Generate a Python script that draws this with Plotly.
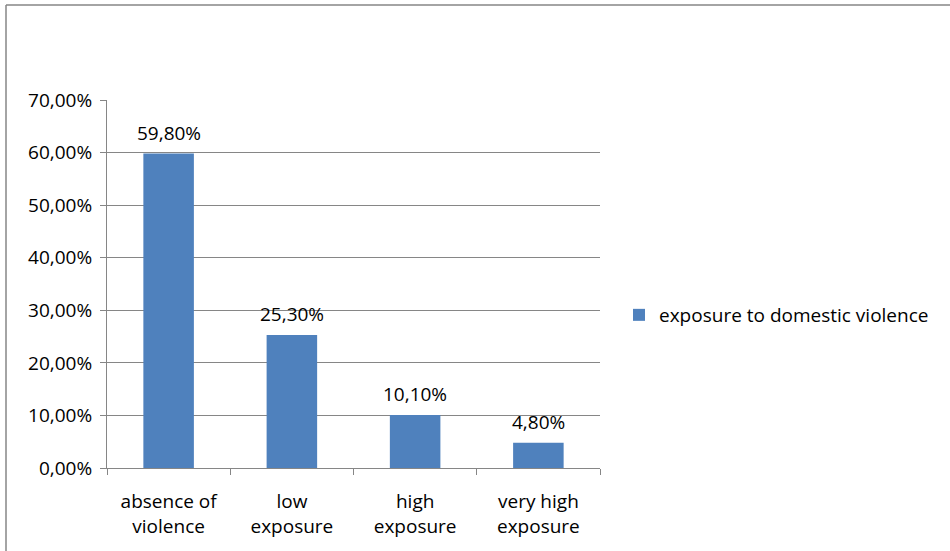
import plotly.graph_objects as go

categories = ["absence of<br>violence", "low<br>exposure", "high<br>exposure", "very high<br>exposure"]
values = [59.80, 25.30, 10.10, 4.80]
series_name = "exposure to domestic violence"
tick_values = [0, 10, 20, 30, 40, 50, 60, 70]
tick_labels = [f"{v:.2f}%".replace(".", ",") for v in tick_values]
value_labels = [f"{v:.2f}%".replace(".", ",") for v in values]

W, H = 950, 551
L, R, T, B = 107, 600, 100, 468
pw, ph = R - L, B - T

def px(x):
    return (x - L) / pw

def py(y):
    return (B - y) / ph

font = "'Open Sans', sans-serif"
fs = 19

fig = go.Figure()
fig.add_trace(go.Bar(
    x=categories, y=values, name=series_name,
    marker=dict(color="#4F81BD", line=dict(width=0)),
    width=0.41,
    showlegend=True,
))

annotations = [
    dict(x=c, y=v, xref="x", yref="y", text=t, showarrow=False,
         yanchor="bottom", yshift=6, font=dict(size=fs, family=font, color="#000000"))
    for c, v, t in zip(categories, values, value_labels)
]

fig.update_layout(
    width=W, height=H,
    margin=dict(l=L, r=W - R, t=T, b=H - B),
    paper_bgcolor="white", plot_bgcolor="white",
    font=dict(family=font, size=fs, color="#000000"),
    showlegend=True,
    legend=dict(x=px(619), y=py(315), xanchor="left", yanchor="middle",
                font=dict(size=fs, family=font), bgcolor="rgba(0,0,0,0)"),
    xaxis=dict(showgrid=False, showline=True, linecolor="#868686", linewidth=1,
               ticks="outside", ticklen=6, tickcolor="#868686", tickson="boundaries",
               ticklabelstandoff=16,
               tickfont=dict(size=fs, family=font), range=[-0.5, 3.5]),
    yaxis=dict(range=[0, 70], tickvals=tick_values, ticktext=tick_labels,
               showgrid=True, gridcolor="#868686", gridwidth=1,
               showline=True, linecolor="#868686", linewidth=1,
               ticks="outside", ticklen=6, tickcolor="#868686",
               ticklabelstandoff=4,
               tickfont=dict(size=fs, family=font), zeroline=False),
    annotations=annotations,
    shapes=[
        dict(type="line", xref="paper", yref="paper", x0=px(6), x1=px(960), y0=py(5), y1=py(5),
             line=dict(color="#868686", width=1.5)),
        dict(type="line", xref="paper", yref="paper", x0=px(6), x1=px(6), y0=py(5), y1=py(560),
             line=dict(color="#868686", width=1.5)),
    ],
)

fig.write_html("out.html", config={"displayModeBar": False},
               post_script="document.body.style.margin='0';")
